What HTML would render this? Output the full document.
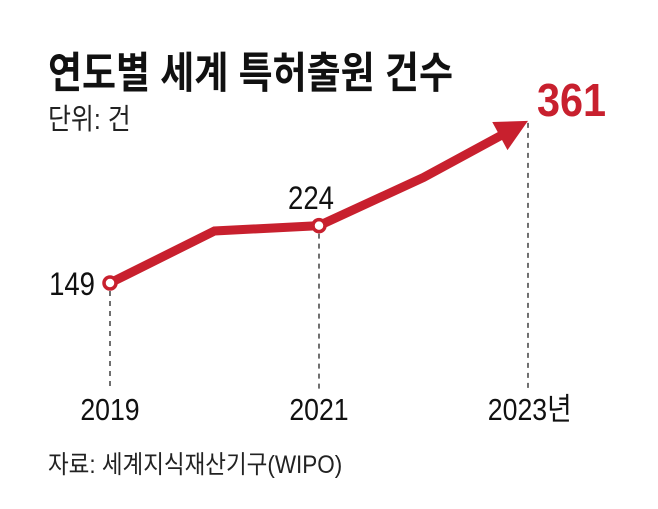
<!DOCTYPE html>
<html><head><meta charset="utf-8"><style>
html,body{margin:0;padding:0;background:#fff;}
svg{display:block;}
text{font-family:"Liberation Sans","Noto Sans CJK KR",sans-serif;}
</style></head><body>
<svg width="658" height="509" viewBox="0 0 658 509">
<text x="48" y="88" font-size="43" font-weight="bold" fill="#111" transform="translate(48 0) scale(0.86 1) translate(-48 0)">연도별 세계 특허출원 건수</text>
<text x="48" y="129" font-size="29" fill="#222" transform="translate(48 0) scale(0.86 1) translate(-48 0)">단위: 건</text>
<g id="plot"></g>
<text x="48" y="473" font-size="25" fill="#222" transform="translate(48 0) scale(0.9 1) translate(-48 0)">자료: 세계지식재산기구(WIPO)</text>
</svg>
<script>
const years=[2019,2020,2021,2022,2023];
const values=[149,217,224,287,361];
const labelIdx=[0,2,4];
const xLabels=["2019","2021","2023년"];
const NS="http://www.w3.org/2000/svg";
const g=document.getElementById('plot');
function xs(y){return 110+(y-2019)*104.5;}
function ys(v){return 283-(v-149)*0.765;}
function mk(t,a){const e=document.createElementNS(NS,t);for(const k in a)e.setAttribute(k,a[k]);g.appendChild(e);return e;}
const red="#c8202e";
labelIdx.forEach((i,j)=>{
  const x=xs(years[i]);
  const d=mk('line',{x1:x,y1:ys(values[i])+(i===4?2:8),x2:x,y2:391,stroke:"#222","stroke-width":1.3,"stroke-dasharray":"5,5"});
  
  
  const t=mk('text',{x:x+(i===4?2:0),y:420,"font-size":31,"text-anchor":"middle",fill:"#111",transform:`translate(${x} 0) scale(0.86 1) translate(${-x} 0)`});
  t.textContent=xLabels[j];
  
  
});
const pts=years.map((y,i)=>[xs(y),ys(values[i])]);
const n=pts.length-1;
const tip=pts[n],prev=pts[n-1];
const dx=tip[0]-prev[0],dy=tip[1]-prev[1],L=Math.hypot(dx,dy),ux=dx/L,uy=dy/L;
const hl=32,hw=16;
const base=[tip[0]-ux*hl,tip[1]-uy*hl];
const linePts=pts.slice(0,n).concat([[base[0]+ux*4,base[1]+uy*4]]);
const pl=mk('polyline',{points:linePts.map(p=>p.join(',')).join(' '),fill:"none",stroke:red,"stroke-width":9,"stroke-linejoin":"miter"});


const head=mk('polygon',{points:[tip,[base[0]-uy*hw,base[1]+ux*hw],[base[0]+uy*hw,base[1]-ux*hw]].map(p=>p.join(',')).join(' '),fill:red});


[0,2].forEach(i=>{
  const c=mk('circle',{cx:pts[i][0],cy:pts[i][1],r:6,fill:"#fff",stroke:red,"stroke-width":3.5});
  
  
});
const l1=mk('text',{x:95,y:295,"font-size":32,"text-anchor":"end",fill:"#111",transform:"translate(95 0) scale(0.86 1) translate(-95 0)"});
l1.textContent=String(values[0]);


const cx2=xs(2021)-8;
const l2=mk('text',{x:cx2,y:209,"font-size":32,"text-anchor":"middle",fill:"#111",transform:`translate(${cx2} 0) scale(0.86 1) translate(${-cx2} 0)`});
l2.textContent=String(values[2]);


const l3=mk('text',{x:537,y:116,"font-size":46,"font-weight":"bold",fill:red,transform:"translate(537 0) scale(0.9 1) translate(-537 0)"});
l3.textContent=String(values[4]);


</script>
</body></html>
